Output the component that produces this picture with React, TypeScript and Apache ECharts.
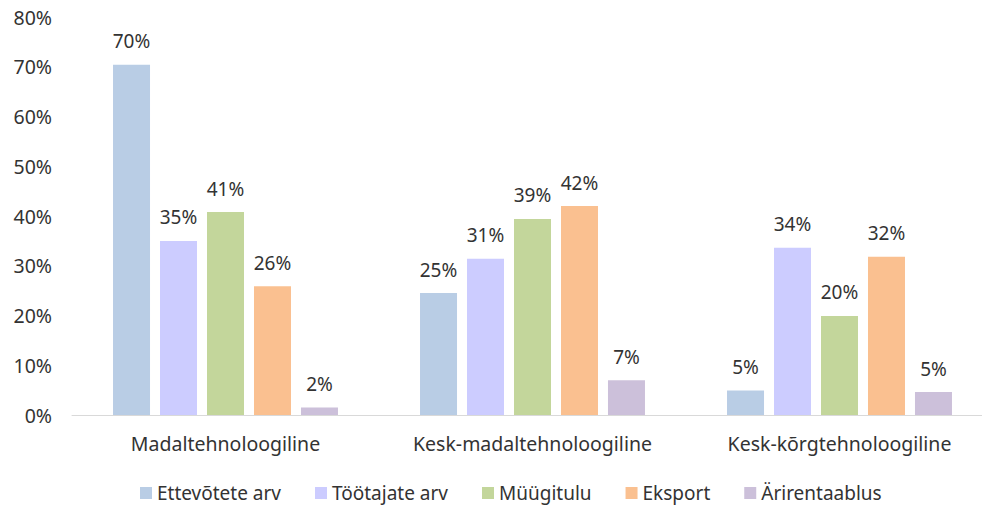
import React, { useEffect, useRef } from "react";
import * as echarts from "echarts";

const categories = ["Madaltehnoloogiline", "Kesk-madaltehnoloogiline", "Kesk-kõrgtehnoloogiline"];
const seriesNames = ["Ettevõtete arv", "Töötajate arv", "Müügitulu", "Eksport", "Ärirentaablus"];
const ettevotted = [70.4, 24.5, 4.9];
const tootajad = [35.0, 31.4, 33.6];
const myygitulu = [40.8, 39.4, 19.9];
const eksport = [25.9, 42.0, 31.8];
const arirentaablus = [1.5, 7.0, 4.6];
const yTicks = [0, 10, 20, 30, 40, 50, 60, 70, 80];
const colors = ["#B9CDE5", "#CCCCFF", "#C3D69B", "#FAC090", "#CCC0DA"];

export default function App() {
  const ref = useRef<HTMLDivElement>(null);
  useEffect(() => {
    const chart = echarts.init(ref.current!, null, { renderer: "svg" });
    const data = [ettevotted, tootajad, myygitulu, eksport, arirentaablus];
    const font = "'Noto Sans', sans-serif";
    const txt = "#333333";
    chart.setOption({
      animation: false,
      textStyle: { fontFamily: font },
      grid: { left: 72, right: 0, top: 17, bottom: 91, containLabel: false },
      legend: {
        top: 482,
        left: 140,
        padding: 0,
        itemWidth: 12,
        itemHeight: 12,
        itemGap: 34,
        icon: "rect",
        textStyle: { fontSize: 19, lineHeight: 22, color: txt, fontFamily: font },
        data: seriesNames,
      },
      xAxis: {
        type: "category",
        data: categories,
        axisLine: { lineStyle: { color: "#D9D9D9", width: 1 } },
        axisTick: { show: false },
        axisLabel: { interval: 0, fontSize: 19.5, color: txt, margin: 18, fontFamily: font },
      },
      yAxis: {
        type: "value",
        min: yTicks[0],
        max: yTicks[yTicks.length - 1],
        interval: 10,
        splitLine: { show: false },
        axisLine: { show: false },
        axisTick: { show: false },
        axisLabel: { fontSize: 19.5, color: txt, margin: 20, formatter: "{value}%", fontFamily: font },
      },
      series: seriesNames.map((name, i) => ({
        name,
        type: "bar",
        data: data[i],
        barWidth: 37,
        barGap: "27%",
        itemStyle: { color: colors[i] },
        label: {
          show: true,
          position: "top",
          distance: 14,
          fontSize: 19,
          color: txt,
          fontFamily: font,
          formatter: (p: any) => Math.round(p.value) + "%",
        },
      })),
    });
    return () => chart.dispose();
  }, []);
  return (
    <div style={{ position: "absolute", left: 0, top: 0, width: 982, height: 506, overflow: "hidden" }}>
      <div ref={ref} style={{ width: 993, height: 506 }} />
    </div>
  );
}
